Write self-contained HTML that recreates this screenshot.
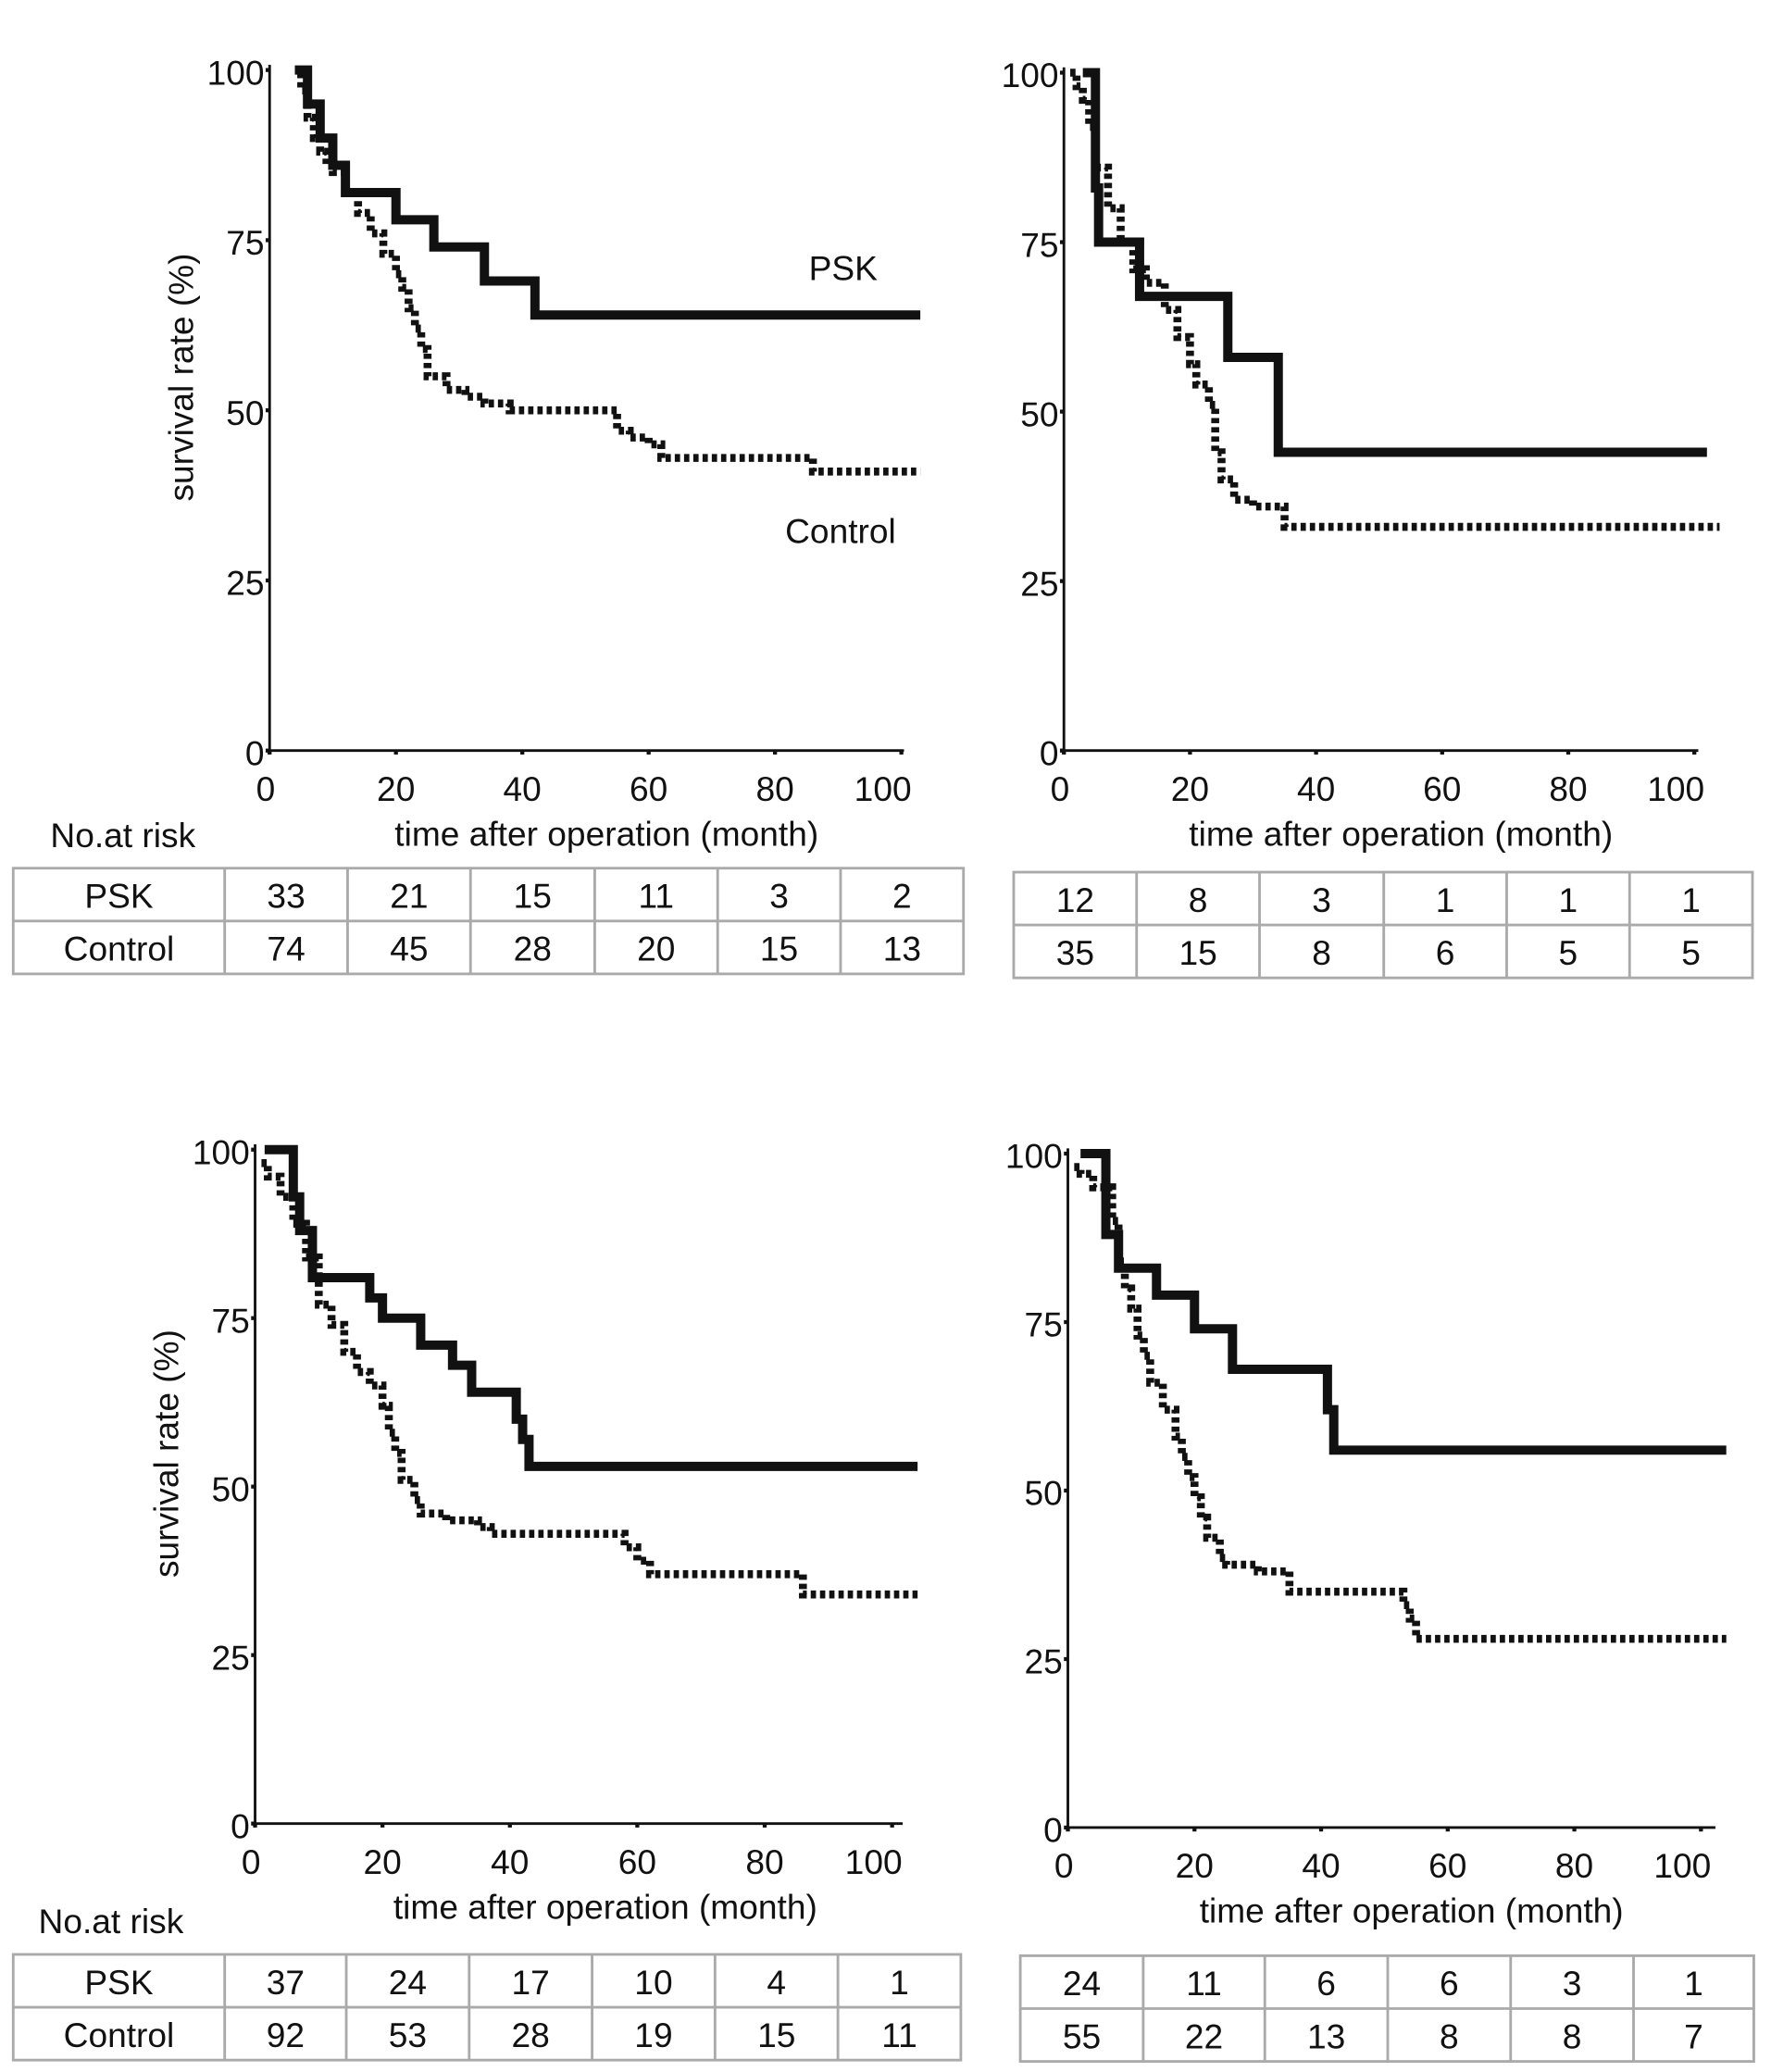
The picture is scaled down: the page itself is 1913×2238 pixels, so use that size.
<!DOCTYPE html>
<html><head><meta charset="utf-8"><style>
html,body{margin:0;padding:0;background:#fff;}
svg{display:block;font-family:"Liberation Sans",sans-serif;}
</style></head><body>
<svg id="fig" width="1913" height="2238" viewBox="0 0 1340 1568" preserveAspectRatio="none" xmlns="http://www.w3.org/2000/svg"></svg>
<script>
// Panel A (top-left)
const aPskT=[4,6,8,10,12,20,26,34,42,103];
const aPskS=[100,95,90,86,82,78,74,69,64,64];
const aCtlT=[4,5,6,7,8,9,10,12,14,16,18,20,21,22,23,24,25,28,31,34,38,55,57,60,62,86,103];
const aCtlS=[100,97,93,90,88,86,85,82,79,76,73,70,68,65,62,59,55,53,52,51,50,47,46,45,43,41,41];
// Panel B (top-right)
const bPskT=[3,5,5.5,12,26,34,102];
const bPskS=[100,83,75,67,58,44,44];
const bCtlT=[1,2,3,4,5,7,9,11,13,16,18,20,21,23,24,25,27,30,35,104];
const bCtlS=[100,98,96,92,86,80,75,71,69,65,61,57,54,51,44,40,37,36,33,33];
// Panel C (bottom-left)
const cPskT=[1.5,5,6,7,9,17,18,20,26,31,34,40,41,42,43,104];
const cPskS=[100,100,93,88,81,81,78,75,71,68,64,64,60,57,53,53];
const cCtlT=[1,2,4,6,8,10,12,14,16,18,20,21,22,23,25,26,30,35,37,58,60,62,86,104];
const cCtlS=[98,96,93,89,84,77,74,70,67,65,62,58,55,51,48,46,45,44,43,41,39,37,34,34];
// Panel D (bottom-right)
const dPskT=[2,5,6,8,14,20,26,40,41,42,104];
const dPskS=[100,100,88,83,79,74,68,68,62,56,56];
const dCtlT=[1,2,4,7,8,9,10,11,12,13,15,17,18,19,20,21,22,24,25,30,35,53,54,55,104];
const dCtlS=[98,97,95,90,84,80,77,73,70,66,62,58,55,52,49,46,43,40,39,38,35,33,31,28,28];
// Tick labels
const xTicks=[0,20,40,60,80,100];
const yTicks=[0,25,50,75,100];
// Risk tables
const aPskRisk=[33,21,15,11,3,2], aCtlRisk=[74,45,28,20,15,13];
const bPskRisk=[12,8,3,1,1,1], bCtlRisk=[35,15,8,6,5,5];
const cPskRisk=[37,24,17,10,4,1], cCtlRisk=[92,53,28,19,15,11];
const dPskRisk=[24,11,6,6,3,1], dCtlRisk=[55,22,13,8,8,7];

const NS="http://www.w3.org/2000/svg";
const svg=document.getElementById('fig');
function mk(tag,attrs,parent){const e=document.createElementNS(NS,tag);for(const k in attrs)e.setAttribute(k,attrs[k]);(parent||svg).appendChild(e);return e;}
function txt(s,x,y,size,anchor,parent){const t=mk('text',{x:x,y:y,'font-size':size,'text-anchor':anchor||'middle',fill:'#111'},parent);t.textContent=s;return t;}

function panel(p){
  const g=mk('g',{});
  
  
  const xs=v=>p.x0+v*(p.x100-p.x0)/100;
  const ys=v=>p.y0-v*(p.y0-p.y100)/100;
  const ax=mk('path',{d:`M${p.x0},${p.y100-4} V${p.y0} H${p.xEnd}`,stroke:'#111','stroke-width':2,fill:'none'},g);
  
  
  yTicks.forEach(v=>{
    mk('line',{x1:p.x0-3,x2:p.x0,y1:ys(v),y2:ys(v),stroke:'#111','stroke-width':3},g);
    const t=txt(String(v),p.x0-4,ys(v)+11,26,'end',g);
    
    
  });
  xTicks.forEach(v=>{
    mk('line',{x1:xs(v),x2:xs(v),y1:p.y0,y2:p.y0+3,stroke:'#111','stroke-width':3},g);
    const t=txt(String(v),xs(v)+(v===0?-3:0)-(v===100?14:0),p.y0+38,26,'middle',g);
    
    
  });
  const xt=txt('time after operation (month)',(p.x0+p.xEnd)/2+p.xtOff,p.y0+72,26,'middle',g);
  
  
  if(p.ylab){
    const yt=txt('survival rate (%)',0,0,26,'middle',g);
    yt.setAttribute('transform',`translate(${p.x0-58},${(p.y0+p.y100)/2-25}) rotate(-90)`);
    
    
  }
  function step(T,S){let d=`M${xs(T[0])},${ys(S[0])}`;for(let i=1;i<T.length;i++){d+=` H${xs(T[i])} V${ys(S[i])}`;}return d;}
  const c=mk('path',{d:step(p.ct,p.cs),stroke:'#111','stroke-width':6,fill:'none','stroke-dasharray':'4 3'},g);
  
  
  const s=mk('path',{d:step(p.pt,p.ps),stroke:'#111','stroke-width':7,fill:'none'},g);
  
  
  const tb=mk('g',{},g);
  
  
  const cols=p.cols, ty=p.ty;
  mk('rect',{x:cols[0],y:ty,width:cols[cols.length-1]-cols[0],height:80,fill:'none',stroke:'#aaa','stroke-width':2},tb);
  mk('line',{x1:cols[0],x2:cols[cols.length-1],y1:ty+40,y2:ty+40,stroke:'#aaa','stroke-width':2},tb);
  for(let i=1;i<cols.length-1;i++)mk('line',{x1:cols[i],x2:cols[i],y1:ty,y2:ty+80,stroke:'#aaa','stroke-width':2},tb);
  let off=0;
  if(p.rowLabels){off=1;
    txt('PSK',(cols[0]+cols[1])/2,ty+30,26,'middle',tb);
    txt('Control',(cols[0]+cols[1])/2,ty+70,26,'middle',tb);
    txt('No.at risk',p.nx,ty-16,26,'middle',g);
  }
  p.r1.forEach((v,i)=>{const c0=cols[i+off],c1=cols[i+off+1];
    const a=txt(String(v),(c0+c1)/2,ty+30,26,'middle',tb);
    
    
    const b=txt(String(p.r2[i]),(c0+c1)/2,ty+70,26,'middle',tb);
    
    
  });
  if(p.legend){
    const l1=txt('PSK',638,212,26,'middle',g);
    
    
    const l2=txt('Control',636,411,26,'middle',g);
    
    
  }
}
panel({name:'panel-top-left',x0:204,x100:682,xEnd:684,y0:568,y100:53,pt:aPskT,ps:aPskS,ct:aCtlT,cs:aCtlS,ylab:true,legend:true,xtOff:15,
  cols:[10,170,263,356,450,543,636,729],ty:657,r1:aPskRisk,r2:aCtlRisk,rowLabels:true,nx:93});
panel({name:'panel-top-right',x0:805,x100:1282,xEnd:1285,y0:568,y100:55,pt:bPskT,ps:bPskS,ct:bCtlT,cs:bCtlS,xtOff:15,
  cols:[767,860,953,1047,1140,1233,1326],ty:660,r1:bPskRisk,r2:bCtlRisk});
panel({name:'panel-bottom-left',x0:193,x100:675,xEnd:683,y0:1380,y100:870,pt:cPskT,ps:cPskS,ct:cCtlT,cs:cCtlS,ylab:true,xtOff:20,
  cols:[10,170,262,355,448,541,634,727],ty:1479,r1:cPskRisk,r2:cCtlRisk,rowLabels:true,nx:84});
panel({name:'panel-bottom-right',x0:808,x100:1287,xEnd:1298,y0:1383,y100:873,pt:dPskT,ps:dPskS,ct:dCtlT,cs:dCtlS,xtOff:15,
  cols:[772,865,957,1050,1143,1236,1327],ty:1480,r1:dPskRisk,r2:dCtlRisk});
</script>
</body></html>
